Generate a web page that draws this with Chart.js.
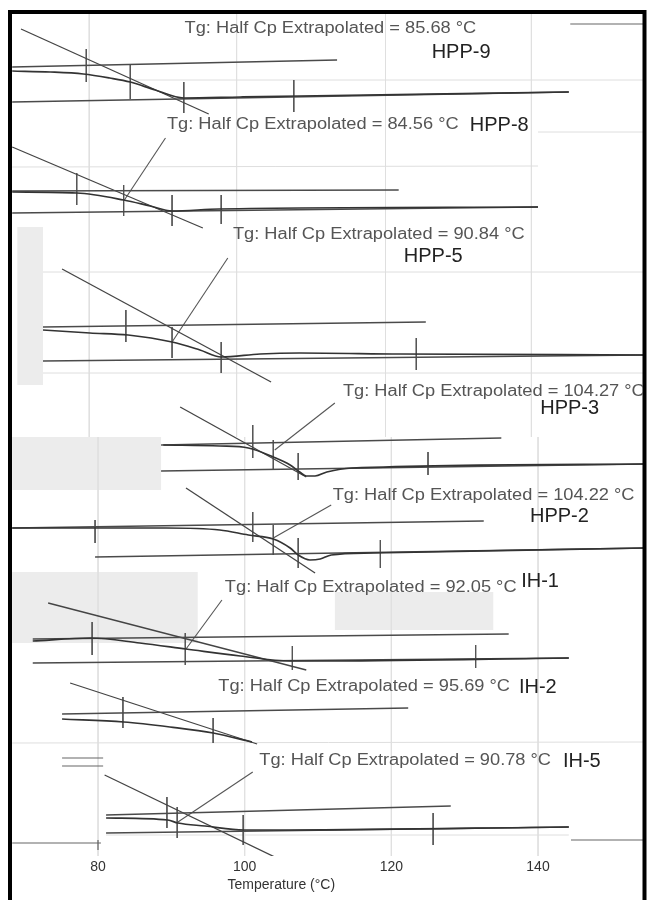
<!DOCTYPE html>
<html><head><meta charset="utf-8">
<script src="https://cdn.jsdelivr.net/npm/chart.js@4.4.1/dist/chart.umd.min.js"></script>
<style>html,body{margin:0;padding:0;background:#fff}#wrap{width:649px;height:900px}</style>
</head><body><div id="wrap"><canvas id="c" width="649" height="900"></canvas></div>
<script>
// x = temperature (°C); y = vertical offset of each scanned DSC trace (arbitrary units, 0 = top)
const xTicks = [80, 100, 120, 140];
const xTitle = 'Temperature (°C)';
const sampleNames = ['HPP-9','HPP-8','HPP-5','HPP-3','HPP-2','IH-1','IH-2','IH-5'];
const tgValues = ['85.68','84.56','90.84','104.27','104.22','92.05','95.69','90.78'];

// DSC curves [T, offset]
const hpp9Curve = [[68.3,71],[73.5,72],[78.0,74],[81.6,78],[84.4,82],[87.8,90],[91.7,98],[99.4,97],[107.5,96],[144.2,92]];
const hpp8Curve = [[68.3,192],[77.1,193],[83.5,200],[87.1,206],[90.1,211],[96.5,209],[140.0,207]];
const hpp5Curve = [[72.5,330],[78.9,333],[84.1,335],[90.1,342],[93.9,350],[96.8,357],[102.1,354],[107.5,353],[121.2,354],[154.6,355]];
const hpp3Curve = [[88.9,445],[96.6,446],[100.5,448],[103.9,457],[106.2,465],[107.5,472],[108.4,476],[109.6,476],[111.2,472],[114.6,468],[154.6,464]];
const hpp2Curve = [[68.3,528],[89.3,528],[96.6,530],[100.5,535],[103.9,539],[106.2,548],[107.3,555],[108.9,560],[110.3,559],[111.8,555],[117.5,553],[154.6,548]];
const ih1Curve = [[71.1,641],[79.0,638],[85.7,643],[92.0,649],[99.4,656],[106.2,661],[111.8,661],[144.2,658]];
const ih2Curve = [[75.1,719],[83.5,722],[89.8,727],[95.7,733],[101.0,742]];
const ih5Curve = [[81.1,818],[89.5,820],[90.9,823],[94.6,826],[99.9,830],[106.2,830],[144.2,827]];

// extrapolated baselines (upper / lower) and inflection tangents
const hpp9Upper = [[68.3,67],[112.6,60]];   const hpp9Lower = [[68.3,102],[144.2,92]];  const hpp9Tangent = [[69.5,29],[95.1,114]];
const hpp8Upper = [[68.3,191],[121.0,190]]; const hpp8Lower = [[68.3,213],[140.0,207]]; const hpp8Tangent = [[68.3,147],[94.3,228]];
const hpp5Upper = [[72.5,327],[124.7,322]]; const hpp5Lower = [[72.5,361],[154.6,355]]; const hpp5Tangent = [[75.1,269],[103.6,382]];
const hpp3Upper = [[88.6,445],[135.0,438]]; const hpp3Lower = [[88.6,471],[154.6,464]]; const hpp3Tangent = [[91.2,407],[108.4,477]];
const hpp2Upper = [[68.3,528],[132.6,521]]; const hpp2Lower = [[79.6,557],[154.6,548]]; const hpp2Tangent = [[92.0,488],[109.6,573]];
const ih1Upper = [[71.1,639],[136.0,634]];  const ih1Lower = [[71.1,663],[144.2,658]];  const ih1Tangent = [[73.2,603],[108.4,670]];
const ih2Upper = [[75.1,714],[122.3,708]];  const ih2Lower = [];                         const ih2Tangent = [[76.2,683],[101.7,744]];
const ih5Upper = [[81.1,815],[128.1,806]];  const ih5Lower = [[81.1,833],[144.2,827]];  const ih5Tangent = [[80.9,775],[104.1,857]];

// analysis markers [T, offsetTop, offsetBottom]
const hpp9Marks = [[78.4,49,82],[84.4,65,99],[91.7,82,113],[106.7,80,112]];
const hpp8Marks = [[77.1,173,205],[83.5,185,216],[90.1,195,226],[96.8,195,224]];
const hpp5Marks = [[83.8,310,342],[90.1,327,358],[96.8,342,373],[123.4,338,370]];
const hpp3Marks = [[101.1,425,458],[103.9,440,470],[107.3,453,480],[125.0,452,475]];
const hpp2Marks = [[79.6,520,543],[101.1,512,542],[103.9,525,555],[107.3,538,568],[118.5,540,568]];
const ih1Marks = [[79.2,622,655],[91.9,633,665],[106.5,646,670],[131.5,645,668]];
const ih2Marks = [[83.4,697,728],[95.7,718,743]];
const ih5Marks = [[89.4,797,828],[90.8,807,838],[99.8,815,845],[125.7,813,845]];

// leader lines from label to Tg point
const hpp8Leader = [[89.2,138],[83.6,200]];
const hpp5Leader = [[97.7,258],[90.1,342]];
const hpp3Leader = [[112.3,403],[104.1,450]];
const hpp2Leader = [[111.8,505],[103.9,538]];
const ih1Leader = [[96.9,600],[91.9,650]];
const ih5Leader = [[101.1,772],[90.9,822]];

// label anchors [T, offset]
const tgTextAt = [[91.8,29],[89.4,125],[98.4,235],[113.4,392],[112.0,496],[97.3,588],[96.4,687],[102.0,761]];
const nameAt = [[125.5,52],[130.7,125],[121.7,256],[140.3,408],[138.9,516],[137.7,581],[137.4,687],[143.4,761]];
const titleAt = [105.0, 885];

// scanned grid (upper panels are shifted in the collage), fragments, faint scan lines, grey scan patches
const gridUpperT = [78.8, 98.9, 119.2, 139.1];
const gridLowerT = [80, 100, 120, 140];
const gridSplit = [14, 437, 856];
const fragments = [[[144.4,24],[154.6,24]],[[68.3,843],[80.4,843]],[[80.0,840],[80.0,850]],[[144.5,840],[154.6,840]],[[75.1,758],[80.7,758]],[[75.1,766],[80.7,766]]];
const faintLines = [[[84.8,80],[154.6,80]],[[140.0,132],[154.6,132]],[[68.3,167],[140.0,166]],[[72.5,272],[154.6,272]],[[72.5,373],[154.6,373]],[[68.3,743],[154.6,742]],[[81.1,835],[144.2,835]]];
const greyPatches = [[69.0,72.5,227,385],[68.3,88.6,437,490],[68.3,93.6,572,643],[112.3,133.9,592,630]];

const curves = [hpp9Curve,hpp8Curve,hpp5Curve,hpp3Curve,hpp2Curve,ih1Curve,ih2Curve,ih5Curve];
const uppers = [hpp9Upper,hpp8Upper,hpp5Upper,hpp3Upper,hpp2Upper,ih1Upper,ih2Upper,ih5Upper];
const lowers = [hpp9Lower,hpp8Lower,hpp5Lower,hpp3Lower,hpp2Lower,ih1Lower,ih2Lower,ih5Lower];
const tangents = [hpp9Tangent,hpp8Tangent,hpp5Tangent,hpp3Tangent,hpp2Tangent,ih1Tangent,ih2Tangent,ih5Tangent];
const marks = [hpp9Marks,hpp8Marks,hpp5Marks,hpp3Marks,hpp2Marks,ih1Marks,ih2Marks,ih5Marks];
const leaders = [hpp8Leader,hpp5Leader,hpp3Leader,hpp2Leader,ih1Leader,ih5Leader];

const P = a => a.map(([x,y]) => ({x, y}));
const ds = [];
const lineDs = (data, color, width, extra) => Object.assign({type:'line', data, borderColor: color, borderWidth: width, pointRadius: 0, fill: false, tension: 0, spanGaps: false}, extra || {});

curves.forEach(c => ds.push(lineDs(P(c), '#333', 1.7, {cubicInterpolationMode: 'monotone', order: 1})));
uppers.forEach(c => c.length && ds.push(lineDs(P(c), '#4a4a4a', 1.3, {order: 2})));
lowers.forEach(c => c.length && ds.push(lineDs(P(c), '#4a4a4a', 1.3, {order: 2})));
tangents.forEach(c => ds.push(lineDs(P(c), '#444', 1.3, {order: 2})));
leaders.forEach(c => ds.push(lineDs(P(c), '#555', 1.1, {order: 2})));
marks.forEach(m => {
  const pts = [];
  m.forEach(([t, a, b]) => { pts.push({x:t, y:a}, {x:t, y:b}, {x:t, y:null}); });
  ds.push(lineDs(pts, '#555', 1, {order: 3}));
});
fragments.forEach(f => ds.push(lineDs(P(f), '#666', 1.2, {order: 4})));
faintLines.forEach(f => ds.push(lineDs(P(f), '#dedede', 1, {order: 5})));
const gridPts = [];
gridUpperT.forEach(t => gridPts.push({x:t, y:gridSplit[0]}, {x:t, y:gridSplit[1]}, {x:t, y:null}));
gridLowerT.forEach(t => gridPts.push({x:t, y:gridSplit[1]}, {x:t, y:gridSplit[2]}, {x:t, y:null}));
ds.push(lineDs(gridPts, '#e0e0e0', 1, {order: 8}));
greyPatches.forEach(([t1,t2,a,b]) => ds.push(lineDs(P([[t1,a],[t2,a],[t2,b],[t1,b],[t1,a]]), 'rgba(0,0,0,0)', 0, {fill: 'shape', backgroundColor: '#ececec', order: 9})));

const textPlugin = {
  id: 'scanText',
  afterDraw(chart) {
    const {ctx, scales: {x, y}} = chart;
    ctx.save();
    ctx.beginPath(); ctx.rect(12, 14, 630.5, 886); ctx.clip();
    ctx.textBaseline = 'middle'; ctx.textAlign = 'left';
    sampleNames.forEach((name, i) => {
      const [tx, ty] = tgTextAt[i];
      ctx.save();
      ctx.translate(x.getPixelForValue(tx), y.getPixelForValue(ty));
      ctx.scale(1.14, 1);
      ctx.font = '16px "Liberation Sans", Arial, sans-serif';
      ctx.fillStyle = '#555';
      ctx.fillText('Tg: Half Cp Extrapolated = ' + tgValues[i] + ' °C', 0, 0);
      ctx.restore();
      const [nx, ny] = nameAt[i];
      ctx.font = '20px "Liberation Sans", Arial, sans-serif';
      ctx.fillStyle = '#222';
      ctx.fillText(name, x.getPixelForValue(nx), y.getPixelForValue(ny));
    });
    ctx.textAlign = 'center';
    ctx.font = '14px "Liberation Sans", Arial, sans-serif';
    ctx.fillStyle = '#333';
    ctx.fillText(xTitle, x.getPixelForValue(titleAt[0]), y.getPixelForValue(titleAt[1]));
    ctx.restore();
    // scanned frame
    ctx.save();
    ctx.strokeStyle = '#000'; ctx.lineWidth = 4;
    ctx.beginPath();
    ctx.moveTo(10, 902); ctx.lineTo(10, 12); ctx.lineTo(644.5, 12); ctx.lineTo(644.5, 902);
    ctx.stroke();
    ctx.restore();
  }
};

new Chart(document.getElementById('c'), {
  type: 'line',
  data: {datasets: ds},
  options: {
    responsive: false, animation: false, devicePixelRatio: 1,
    layout: {padding: 0},
    plugins: {legend: {display: false}, tooltip: {enabled: false}},
    scales: {
      x: {type: 'linear', min: 66.636, max: 155.136,
          afterBuildTicks: s => { s.ticks = xTicks.map(v => ({value: v})); },
          afterFit: s => { s.height = 44; },
          border: {display: false},
          grid: {display: true, drawOnChartArea: false, drawTicks: false},
          ticks: {padding: 3, color: '#333', font: {size: 14, family: '"Liberation Sans", Arial, sans-serif'}}},
      y: {type: 'linear', display: false, min: 0, max: 856, reverse: true}
    }
  },
  plugins: [textPlugin]
});
</script></body></html>
